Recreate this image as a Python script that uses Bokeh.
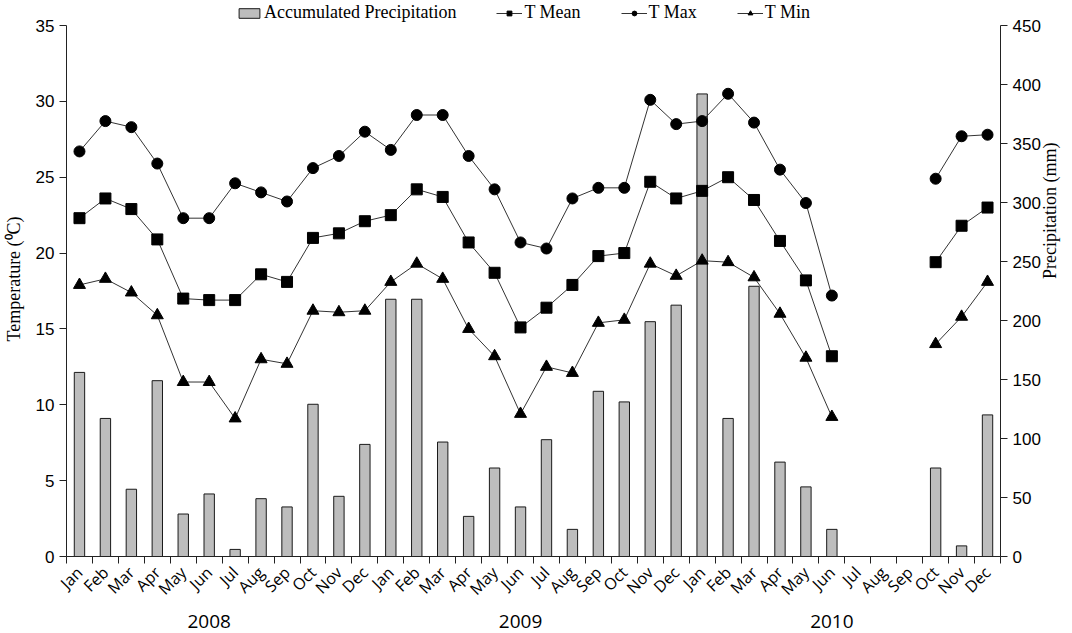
import math
import numpy as np
from bokeh.plotting import figure
from bokeh.models import (Range1d, LinearAxis, FixedTicker, ColumnDataSource,
                          Legend, LegendItem)
from bokeh.embed import file_html
from bokeh.resources import INLINE

nan = float("nan")

months = ["Jan", "Feb", "Mar", "Apr", "May", "Jun",
          "Jul", "Aug", "Sep", "Oct", "Nov", "Dec"]
years = ["2008", "2009", "2010"]

precip = [156, 117, 57, 149, 36, 53, 6, 49, 42, 129, 51, 95,
          218, 218, 97, 34, 75, 42, 99, 23, 140, 131, 199, 213,
          392, 117, 229, 80, 59, 23, 0, 0, 0, 75, 9, 120]

t_mean = [22.3, 23.6, 22.9, 20.9, 17.0, 16.9, 16.9, 18.6, 18.1, 21.0, 21.3, 22.1,
          22.5, 24.2, 23.7, 20.7, 18.7, 15.1, 16.4, 17.9, 19.8, 20.0, 24.7, 23.6,
          24.1, 25.0, 23.5, 20.8, 18.2, 13.2, nan, nan, nan, 19.4, 21.8, 23.0]

t_max = [26.7, 28.7, 28.3, 25.9, 22.3, 22.3, 24.6, 24.0, 23.4, 25.6, 26.4, 28.0,
         26.8, 29.1, 29.1, 26.4, 24.2, 20.7, 20.3, 23.6, 24.3, 24.3, 30.1, 28.5,
         28.7, 30.5, 28.6, 25.5, 23.3, 17.2, nan, nan, nan, 24.9, 27.7, 27.8]

t_min = [17.9, 18.3, 17.4, 15.9, 11.5, 11.5, 9.1, 13.0, 12.7, 16.2, 16.1, 16.2,
         18.1, 19.3, 18.3, 15.0, 13.2, 9.4, 12.5, 12.1, 15.4, 15.6, 19.3, 18.5,
         19.5, 19.4, 18.4, 16.0, 13.1, 9.2, nan, nan, nan, 14.0, 15.8, 18.1]

n = len(precip)
x = list(range(1, n + 1))
month_labels = [months[i % 12] for i in range(n)]

src = ColumnDataSource(dict(x=x, precip=precip, t_mean=t_mean,
                            t_max=t_max, t_min=t_min))

T_MAX, P_MAX = 35, 450
AXIS_H, PAD = 531, 24          # axis length and extra room above it for the legend
FW, FH = 934, AXIS_H + PAD
ext = FH / AXIS_H

p = figure(frame_width=FW, frame_height=FH,
           x_range=Range1d(0.5, n + 0.5), y_range=Range1d(0, T_MAX * ext),
           output_backend="svg", toolbar_location=None,
           min_border_left=60, min_border_right=64, min_border_top=1,
           min_border_bottom=76)
p.outline_line_color = None
p.grid.visible = False
p.background_fill_color = "white"
p.border_fill_color = "white"

p.extra_y_ranges = {"precip": Range1d(0, P_MAX * ext)}

bars = p.vbar(x="x", top="precip", width=0.4, bottom=0, source=src,
              y_range_name="precip", fill_color="#bdbdbd",
              line_color="#1a1a1a", line_width=1)

line_col = "#333333"
lm = p.line("x", "t_mean", source=src, line_color=line_col, line_width=1)
sm = p.scatter("x", "t_mean", source=src, marker="square", size=11,
               fill_color="black", line_color="black")
lx = p.line("x", "t_max", source=src, line_color=line_col, line_width=1)
sx = p.scatter("x", "t_max", source=src, marker="circle", size=11,
               fill_color="black", line_color="black")
ln = p.line("x", "t_min", source=src, line_color=line_col, line_width=1)
sn = p.scatter("x", "t_min", source=src, marker="triangle", size=12,
               fill_color="black", line_color="black")

tick_font = "Liberation Sans"

# left axis
ly = p.yaxis[0]
ly.bounds = (0, T_MAX)
ly.ticker = FixedTicker(ticks=list(range(0, T_MAX + 1, 5)))
ly.axis_label = "Temperature (\u2070C)"
ly.axis_label_text_font = "Liberation Serif"
ly.axis_label_text_font_style = "normal"
ly.axis_label_text_font_size = "18px"
ly.axis_label_text_color = "black"
ly.major_label_text_font = tick_font
ly.major_label_text_font_size = "17px"
ly.major_label_text_color = "black"
ly.minor_tick_line_color = None
ly.major_tick_out = 7
ly.major_tick_in = 0
ly.axis_line_color = "#222222"
ly.major_tick_line_color = "#222222"
ly.axis_label_standoff = 9

# right axis
ry = LinearAxis(y_range_name="precip",
                ticker=FixedTicker(ticks=list(range(0, P_MAX + 1, 50))))
ry.bounds = (0, P_MAX)
ry.axis_label = "Precipitation (mm)"
ry.axis_label_text_font = "Liberation Serif"
ry.axis_label_text_font_style = "normal"
ry.axis_label_text_font_size = "18px"
ry.axis_label_text_color = "black"
ry.major_label_text_font = tick_font
ry.major_label_text_font_size = "17px"
ry.major_label_text_color = "black"
ry.minor_tick_line_color = None
ry.major_tick_out = 7
ry.major_tick_in = 0
ry.axis_line_color = "#222222"
ry.major_tick_line_color = "#222222"
ry.axis_label_standoff = 6
try:
    ry.axis_label_orientation = math.pi / 2
except Exception:
    pass
p.add_layout(ry, "right")

# bottom axis: boundary ticks only
bx = p.xaxis[0]
bx.ticker = FixedTicker(ticks=[i + 0.5 for i in range(0, n + 1)])
bx.major_label_overrides = {i + 0.5: "" for i in range(0, n + 1)}
bx.major_label_text_font_size = "1px"
bx.major_label_standoff = 0
bx.minor_tick_line_color = None
bx.major_tick_out = 7
bx.major_tick_in = 0
bx.axis_line_color = "#222222"
bx.major_tick_line_color = "#222222"

# month labels
mx = LinearAxis(ticker=FixedTicker(ticks=x),
                major_label_overrides={xi: lab for xi, lab in zip(x, month_labels)})
mx.axis_line_color = None
mx.major_tick_line_color = None
mx.minor_tick_line_color = None
mx.major_label_orientation = math.pi / 4
mx.major_label_text_font = "Open Sans"
mx.major_label_text_font_size = "16px"
mx.major_label_text_color = "black"
mx.major_label_standoff = 0
p.add_layout(mx, "below")

# year labels
year_pos = [12 * i + 6 for i in range(len(years))]
yx = LinearAxis(ticker=FixedTicker(ticks=year_pos),
                major_label_overrides={yp: yr for yp, yr in zip(year_pos, years)})
yx.axis_line_color = None
yx.major_tick_line_color = None
yx.minor_tick_line_color = None
yx.major_label_text_font = "Open Sans"
yx.major_label_text_font_size = "19px"
yx.major_label_text_color = "black"
yx.major_label_standoff = -2
p.add_layout(yx, "below")

legend = Legend(items=[
    LegendItem(label="Accumulated Precipitation", renderers=[bars]),
    LegendItem(label="T Mean", renderers=[lm, sm]),
    LegendItem(label="T Max", renderers=[lx, sx]),
    LegendItem(label="T Min", renderers=[ln, sn]),
], orientation="horizontal", location=(170, AXIS_H + 2))
legend.label_text_font = "Liberation Serif"
legend.label_text_font_size = "18px"
legend.label_text_color = "black"
legend.glyph_width = 26
legend.glyph_height = 12
legend.label_height = 14
legend.label_standoff = 2
legend.spacing = 40
legend.padding = 0
legend.margin = 0
legend.border_line_color = None
legend.background_fill_alpha = 0
p.add_layout(legend, "center")

open("out.html", "w").write(file_html(p, INLINE))
